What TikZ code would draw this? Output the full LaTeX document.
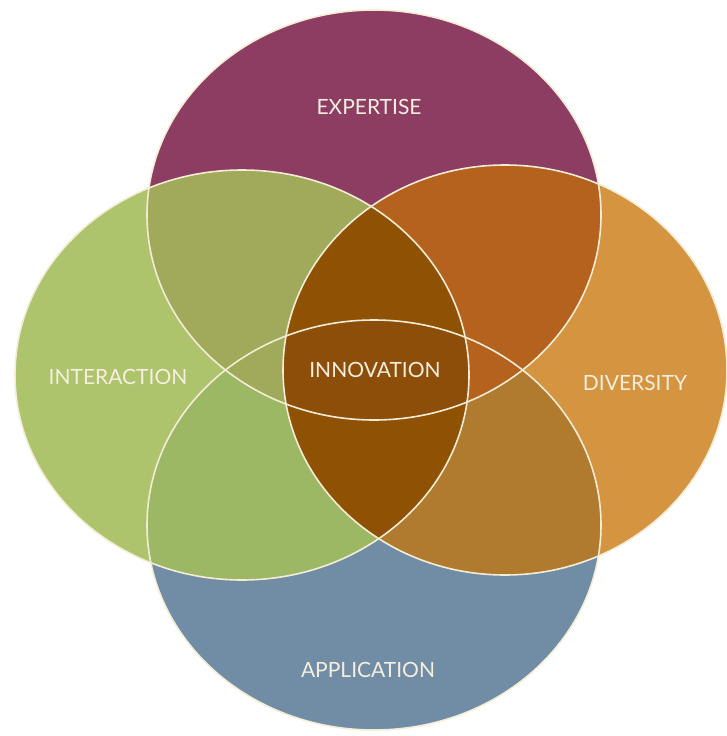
\documentclass[tikz,border=0pt]{standalone}
\usepackage{fontspec}
\setmainfont{Lato}

\definecolor{expcol}{HTML}{8E3D62}
\definecolor{intcol}{HTML}{AEC46C}
\definecolor{divcol}{HTML}{D49440}
\definecolor{appcol}{HTML}{708DA5}
\definecolor{eicol}{HTML}{A0AA5A}
\definecolor{edcol}{HTML}{B4621E}
\definecolor{aicol}{HTML}{9CB864}
\definecolor{adcol}{HTML}{B07B2E}
\definecolor{lenscol}{HTML}{8F5202}
\definecolor{innocol}{HTML}{8C4E08}
\definecolor{rimcol}{HTML}{F4ECD6}
\definecolor{labelcol}{HTML}{F6EEDE}

\newcommand\expell{(374,215) ellipse [x radius=227pt, y radius=205pt]}
\newcommand\intell{(242,375) ellipse [x radius=227pt, y radius=205pt]}
\newcommand\divell{(505,370) ellipse [x radius=222pt, y radius=205pt]}
\newcommand\appell{(374,525) ellipse [x radius=227pt, y radius=205pt]}

\begin{document}
\begin{tikzpicture}[x=1pt,y=-1pt,
    rim/.style={draw=rimcol,line width=1.6pt},
    lbl/.style={text=labelcol,font=\fontsize{21}{25}\selectfont,inner sep=0pt}]
  \useasboundingbox (0,0) rectangle (727,736);

  \fill[expcol] \expell;
  \fill[appcol] \appell;
  \fill[intcol] \intell;
  \fill[divcol] \divell;

  \begin{scope}\clip \expell; \fill[eicol] \intell; \fill[edcol] \divell; \end{scope}
  \begin{scope}\clip \appell; \fill[aicol] \intell; \fill[adcol] \divell; \end{scope}
  \begin{scope}\clip \expell; \clip \appell;
    \fill[eicol] \intell; \fill[edcol] \divell;
  \end{scope}
  \begin{scope}\clip \intell; \fill[lenscol] \divell; \end{scope}
  \begin{scope}\clip \expell; \clip \appell; \clip \intell;
    \fill[innocol] \divell;
  \end{scope}

  \draw[rim] \expell;
  \draw[rim] \appell;
  \draw[rim] \intell;
  \draw[rim] \divell;

  \node[lbl] (expertise)   at (369,107) {EXPERTISE};
  \node[lbl] (interaction) at (118,377) {INTERACTION};
  \node[lbl] (diversity)   at (635,383) {DIVERSITY};
  \node[lbl] (application) at (368,670) {APPLICATION};
  \node[lbl] (innovation)  at (375,370) {INNOVATION};
\end{tikzpicture}
\end{document}
